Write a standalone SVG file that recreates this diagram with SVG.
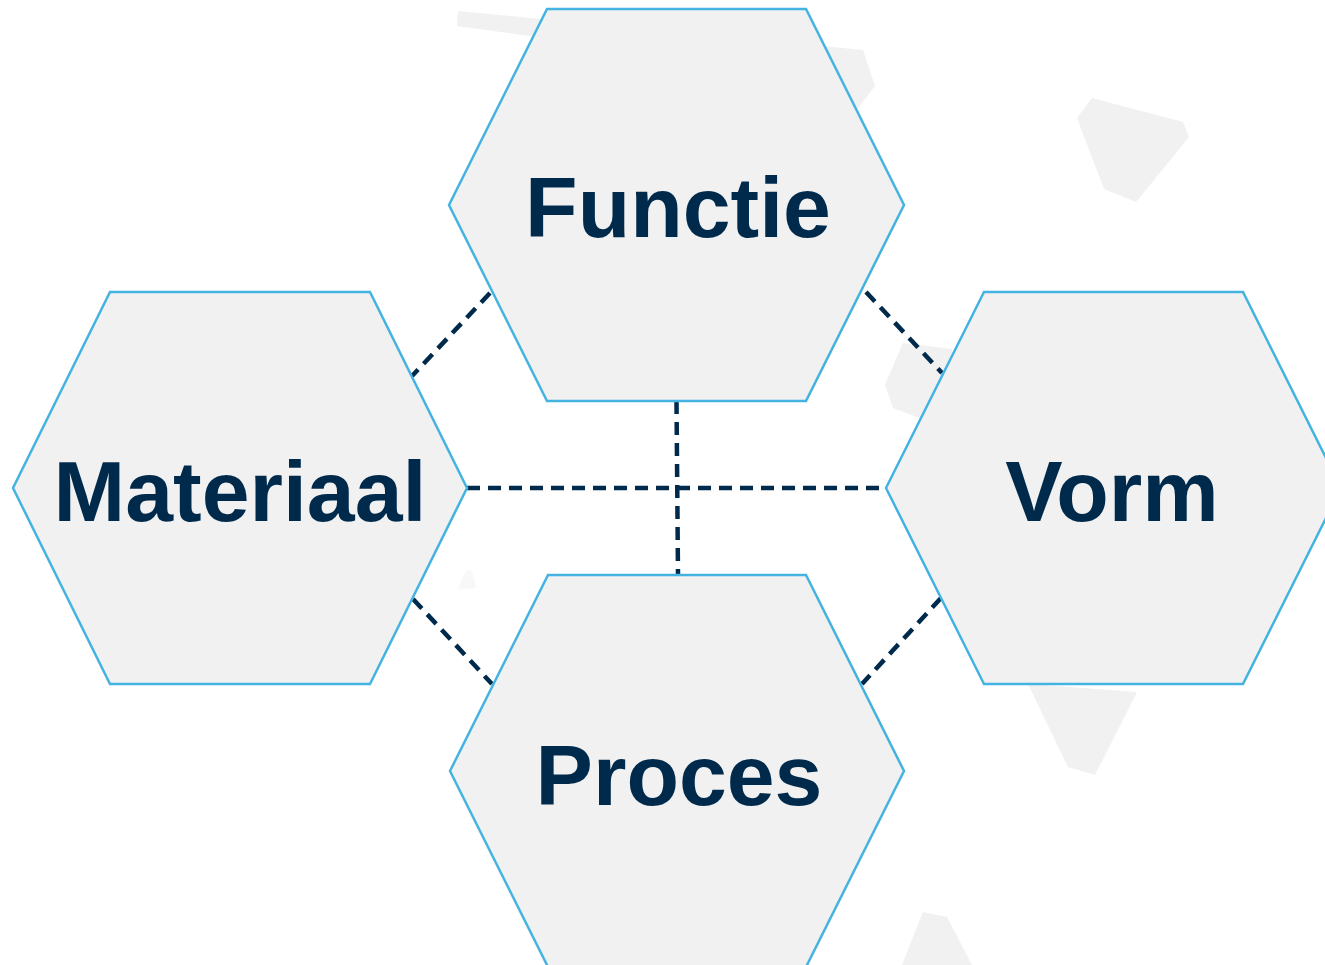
<svg xmlns="http://www.w3.org/2000/svg" width="1325" height="965" viewBox="0 0 1325 965">
<style>
.bg{fill:#f1f1f1;stroke:none}
.hex{fill:#f1f1f1;stroke:#44b3e2;stroke-width:2.5;stroke-linejoin:miter}
.lbl{font-family:"Liberation Sans",Arial,sans-serif;font-weight:bold;font-size:86px;fill:#002a4c;text-anchor:middle}
.con{stroke:#002a4c;stroke-width:4.5;stroke-dasharray:13 8;fill:none}
</style>
<rect width="1325" height="965" fill="#ffffff"/>
<g id="background">
<polygon class="bg" points="458,11 863,50 875,86 855,112 800,110 700,80 530,36 457,26"/>
<polygon class="bg" points="1092,98 1183,122 1189,137 1136,202 1104,189 1077,118"/>
<polygon class="bg" points="903,343 952,349 945,420 920,418 893,408 885,385"/>
<polygon class="bg" points="1028,684 1137,692 1095,775 1068,767"/>
<polygon class="bg" points="923,912 947,917 972,965 902,965"/>
<polygon class="bg" points="466,570 472,571 476,588 458,589" opacity="0.5"/>
</g>
<g id="connectors">
<line class="con" x1="467" y1="488" x2="886" y2="488"/>
<line class="con" x1="676.5" y1="401" x2="678" y2="575"/>
<line class="con" x1="490" y1="293" x2="412" y2="376"/>
<line class="con" x1="866" y1="292" x2="942" y2="373"/>
<line class="con" x1="413" y1="599" x2="492" y2="684"/>
<line class="con" x1="941" y1="598" x2="862" y2="684"/>
</g>
<g id="node-functie">
<polygon class="hex" points="547,9 806,9 904,205 806,401 547,401 449,205"/>
<text class="lbl" x="678" y="237">Functie</text>
</g>
<g id="node-materiaal">
<polygon class="hex" points="110,292 370,292 467,488 370,684 110,684 13,488"/>
<text class="lbl" x="240" y="521">Materiaal</text>
</g>
<g id="node-vorm">
<polygon class="hex" points="984,292 1243,292 1341,488 1243,684 984,684 886,488"/>
<text class="lbl" x="1112" y="521">Vorm</text>
</g>
<g id="node-proces">
<polygon class="hex" points="548,575 806,575 904,771 806,967 548,967 450,771"/>
<text class="lbl" x="679" y="805">Proces</text>
</g>
</svg>
